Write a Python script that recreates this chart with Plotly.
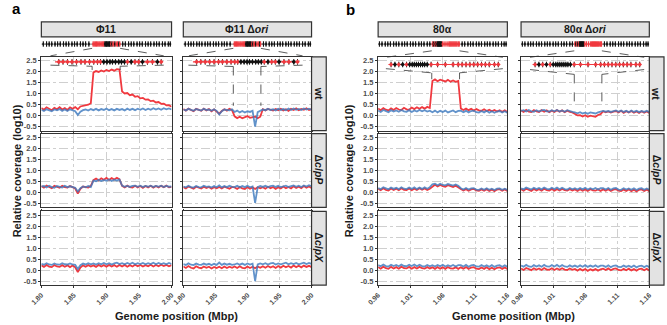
import numpy as np
import plotly.graph_objects as go

# ---------------- data ----------------
A_POS = np.round(np.linspace(1.80, 2.00, 51), 3)   # Mbp sampling grid, phage Phi11 window
B_POS = np.round(np.linspace(0.96, 1.16, 51), 3)   # Mbp sampling grid, phage 80alpha window

A_TICKS = [1.80, 1.85, 1.90, 1.95, 2.00]
A_LABELS = ["1.80", "1.85", "1.90", "1.95", "2.00"]
B_TICKS = [0.96, 1.01, 1.06, 1.11, 1.16]
B_LABELS = ["0.96", "1.01", "1.06", "1.11", "1.16"]
Y_TICKS = [-0.5, 0.0, 0.5, 1.0, 1.5, 2.0, 2.5]
Y_LABELS = ["-0.5", "0.0", "0.5", "1.0", "1.5", "2.0", "2.5"]

COLUMNS = ["Φ11", "Φ11 Δ<i>ori</i>", "80α", "80α Δ<i>ori</i>"]
ROWS = ["wt", "Δ<i>clpP</i>", "Δ<i>clpX</i>"]

# Phi11 wt
A1_WT_RED = [0.35, 0.27, 0.38, 0.30, 0.25, 0.36, 0.29, 0.39, 0.28, 0.35, 0.26, 0.38, 0.31, 0.39,
             0.29, 0.42, 0.44, 0.49, 0.50, 0.57,
             1.97, 2.03, 1.99, 2.06, 2.01, 2.08, 2.03, 2.10, 2.05, 2.12, 2.10,
             1.10, 1.01, 1.03, 0.93, 0.96, 0.86, 0.89, 0.79, 0.81, 0.73, 0.74, 0.66, 0.68, 0.60,
             0.62, 0.54, 0.55, 0.47, 0.48, 0.41]
A1_WT_BLUE = [0.27, 0.21, 0.29, 0.23, 0.20, 0.28, 0.24, 0.30, 0.22, 0.28, 0.21, 0.29, 0.23, 0.20,
              0.03, 0.18, 0.25, 0.28, 0.23, 0.30,
              0.25, 0.31, 0.24, 0.30, 0.26, 0.32, 0.25, 0.30, 0.24, 0.31, 0.26,
              0.30, 0.24, 0.32, 0.26, 0.31, 0.25, 0.32, 0.27, 0.33, 0.26, 0.32, 0.27, 0.34, 0.28,
              0.33, 0.27, 0.34, 0.29, 0.33, 0.28]
# Phi11 dori wt
A2_WT_RED = [0.30, 0.23, 0.32, 0.24, 0.20, 0.31, 0.25, 0.22, 0.32, 0.24, 0.30, 0.20, 0.29, 0.21,
             0.09, 0.21, 0.29, 0.23, 0.31, 0.25,
             -0.03, -0.11, -0.05, -0.12, -0.06, -0.02, -0.10, -0.07, -0.04, -0.12, -0.05,
             0.29, 0.24, 0.31, 0.26, 0.23, 0.30, 0.25, 0.31, 0.24, 0.29, 0.22, 0.31, 0.26, 0.33,
             0.25, 0.31, 0.27, 0.34, 0.26, 0.30]
A2_WT_BLUE = [0.28, 0.24, 0.31, 0.25, 0.22, 0.30, 0.25, 0.23, 0.31, 0.26, 0.28, 0.22, 0.29, 0.22,
              0.05, 0.20, 0.28, 0.26, 0.24, 0.29,
              0.17, 0.23, 0.15, 0.21, 0.14, 0.20, 0.17, 0.22, -0.50, 0.16, 0.21,
              0.28, 0.25, 0.31, 0.26, 0.29, 0.24, 0.31, 0.26, 0.30, 0.25, 0.32, 0.26, 0.33, 0.27,
              0.31, 0.26, 0.33, 0.28, 0.32, 0.27]
# Phi11 clpP
A1_P_RED = [0.29, 0.22, 0.31, 0.23, 0.19, 0.30, 0.24, 0.21, 0.30, 0.24, 0.22, 0.29, 0.24, 0.18,
            -0.05, 0.16, 0.27, 0.25, 0.22, 0.30,
            0.56, 0.63, 0.55, 0.64, 0.58, 0.66, 0.57, 0.65, 0.59, 0.67, 0.60,
            0.30, 0.23, 0.31, 0.24, 0.22, 0.30, 0.23, 0.29, 0.21, 0.29, 0.23, 0.30, 0.22, 0.29,
            0.23, 0.30, 0.24, 0.31, 0.23, 0.25]
A1_P_BLUE = [0.26, 0.29, 0.23, 0.30, 0.24, 0.21, 0.29, 0.25, 0.22, 0.30, 0.24, 0.28, 0.23, 0.21,
             0.04, 0.19, 0.27, 0.23, 0.29, 0.24,
             0.54, 0.51, 0.58, 0.52, 0.57, 0.53, 0.59, 0.52, 0.58, 0.54, 0.59,
             0.31, 0.26, 0.30, 0.25, 0.30, 0.31, 0.26, 0.31, 0.25, 0.30, 0.26, 0.31, 0.25, 0.30,
             0.26, 0.31, 0.25, 0.30, 0.26, 0.27]
A2_P_RED = [0.24, 0.18, 0.27, 0.20, 0.17, 0.26, 0.21, 0.18, 0.26, 0.20, 0.25, 0.17, 0.24, 0.19,
            0.25, 0.18, 0.26, 0.20, 0.17, 0.25,
            0.23, 0.16, 0.25, 0.18, 0.15, 0.24, 0.17, 0.23, 0.16, 0.24, 0.19,
            0.24, 0.17, 0.26, 0.19, 0.25, 0.16, 0.24, 0.18, 0.27, 0.19, 0.25, 0.18, 0.28, 0.20,
            0.26, 0.19, 0.29, 0.21, 0.27, 0.20]
A2_P_BLUE = [0.27, 0.23, 0.30, 0.24, 0.22, 0.29, 0.24, 0.23, 0.30, 0.25, 0.27, 0.22, 0.29, 0.24,
             0.32, 0.23, 0.29, 0.24, 0.30, 0.25,
             0.24, 0.30, 0.23, 0.29, 0.24, 0.30, 0.23, 0.27, -0.48, 0.24, 0.29,
             0.25, 0.30, 0.24, 0.29, 0.31, 0.25, 0.30, 0.24, 0.29, 0.31, 0.25, 0.30, 0.32, 0.26,
             0.31, 0.25, 0.32, 0.27, 0.33, 0.28]
# Phi11 clpX
A1_X_RED = [0.22, 0.15, 0.24, 0.16, 0.14, 0.23, 0.17, 0.15, 0.23, 0.16, 0.22, 0.14, 0.21, 0.13,
            -0.09, 0.12, 0.22, 0.16, 0.23, 0.17,
            0.22, 0.15, 0.24, 0.17, 0.23, 0.16, 0.24, 0.17, 0.23, 0.16, 0.24,
            0.17, 0.24, 0.16, 0.23, 0.17, 0.25, 0.18, 0.24, 0.17, 0.23, 0.18, 0.25, 0.17, 0.24,
            0.18, 0.25, 0.19, 0.24, 0.18, 0.23]
A1_X_BLUE = [0.29, 0.25, 0.32, 0.26, 0.24, 0.31, 0.26, 0.25, 0.32, 0.27, 0.26, 0.31, 0.26, 0.24,
             0.05, 0.23, 0.30, 0.26, 0.32, 0.27,
             0.31, 0.26, 0.32, 0.27, 0.33, 0.27, 0.32, 0.26, 0.31, 0.34, 0.28,
             0.32, 0.27, 0.33, 0.28, 0.34, 0.27, 0.32, 0.28, 0.33, 0.27, 0.32, 0.28, 0.34, 0.27,
             0.33, 0.28, 0.32, 0.27, 0.33, 0.28]
A2_X_RED = [0.17, 0.10, 0.19, 0.11, 0.08, 0.18, 0.12, 0.09, 0.17, 0.11, 0.16, 0.08, 0.15, 0.10,
            0.16, 0.09, 0.17, 0.10, 0.16, 0.11,
            0.17, 0.10, 0.18, 0.11, 0.09, 0.17, 0.10, 0.16, 0.09, 0.17, 0.11,
            0.18, 0.11, 0.19, 0.12, 0.18, 0.10, 0.19, 0.12, 0.20, 0.13, 0.19, 0.12, 0.21, 0.14,
            0.20, 0.13, 0.21, 0.15, 0.20, 0.14]
A2_X_BLUE = [0.28, 0.24, 0.31, 0.25, 0.23, 0.30, 0.25, 0.24, 0.30, 0.25, 0.29, 0.23, 0.29, 0.24,
             0.35, 0.24, 0.30, 0.25, 0.29, 0.24,
             0.26, 0.31, 0.25, 0.30, 0.24, 0.31, 0.26, 0.30, -0.50, 0.26, 0.31,
             0.27, 0.32, 0.26, 0.31, 0.33, 0.26, 0.31, 0.27, 0.32, 0.34, 0.27, 0.32, 0.28, 0.33,
             0.27, 0.32, 0.34, 0.28, 0.33, 0.29]

# 80alpha wt
B1_WT_RED = [0.32, 0.25, 0.34, 0.27, 0.24, 0.33, 0.26, 0.35, 0.28, 0.26, 0.36, 0.29, 0.27, 0.37,
             0.30, 0.38, 0.31, 0.39, 0.32, 0.40, 0.35,
             1.58, 1.65, 1.57, 1.64, 1.59, 1.56, 1.63, 1.55, 1.60, 1.54, 1.58,
             0.33, 0.26, 0.32, 0.25, 0.31, 0.23, 0.30, 0.24, 0.22, 0.29, 0.21, 0.27, 0.20, 0.26,
             0.19, 0.25, 0.18, 0.24, 0.17]
B1_WT_BLUE = [0.23, 0.17, 0.26, 0.20, 0.16, 0.25, 0.19, 0.24, 0.18, 0.26, 0.20, 0.18, 0.25, 0.17,
              0.24, 0.19, 0.26, 0.20, 0.25, 0.19, 0.23,
              0.16, 0.23, 0.15, 0.22, 0.17, 0.23, 0.15, 0.21, 0.24, 0.16, 0.22,
              0.23, 0.16, 0.22, 0.15, 0.21, 0.23, 0.16, 0.14, 0.21, 0.15, 0.22, 0.14, 0.20, 0.13,
              0.19, 0.21, 0.14, 0.20, 0.13]
B2_WT_RED = [0.24, 0.17, 0.26, 0.18, 0.16, 0.25, 0.19, 0.17, 0.25, 0.18, 0.24, 0.16, 0.23, 0.17,
             0.25, 0.18, 0.24, 0.16, 0.23, 0.17, 0.15,
             0.06, 0.01, 0.02, -0.04, 0.02, -0.05, 0.00, -0.02, -0.05, 0.03, 0.07,
             0.20, 0.15, 0.19, 0.14, 0.18, 0.21, 0.15, 0.22, 0.13, 0.20, 0.14, 0.21, 0.13, 0.19,
             0.12, 0.20, 0.13, 0.19, 0.12]
B2_WT_BLUE = [0.22, 0.25, 0.19, 0.26, 0.20, 0.18, 0.25, 0.19, 0.24, 0.26, 0.20, 0.19, 0.25, 0.20,
              0.26, 0.19, 0.24, 0.18, 0.25, 0.20, 0.17,
              0.15, 0.11, 0.16, 0.10, 0.14, 0.09, 0.15, 0.11, 0.10, 0.15, 0.17,
              0.22, 0.18, 0.21, 0.17, 0.20, 0.24, 0.18, 0.23, 0.17, 0.22, 0.16, 0.23, 0.17, 0.22,
              0.16, 0.21, 0.17, 0.22, 0.16]
# 80alpha clpP
B1_P_RED = [0.17, 0.10, 0.19, 0.12, 0.09, 0.18, 0.11, 0.17, 0.10, 0.19, 0.12, 0.11, 0.18, 0.10,
            0.17, 0.11, 0.19, 0.12, 0.18, 0.11, 0.17,
            0.28, 0.35, 0.27, 0.34, 0.29, 0.26, 0.33, 0.28, 0.25, 0.31, 0.25,
            0.16, 0.09, 0.15, 0.08, 0.14, 0.16, 0.09, 0.07, 0.14, 0.08, 0.15, 0.07, 0.13, 0.06,
            0.13, 0.15, 0.08, 0.14, 0.07]
B1_P_BLUE = [0.20, 0.15, 0.23, 0.17, 0.14, 0.22, 0.16, 0.21, 0.15, 0.23, 0.17, 0.15, 0.22, 0.16,
             0.23, 0.15, 0.22, 0.16, 0.23, 0.17, 0.24,
             0.37, 0.40, 0.33, 0.39, 0.34, 0.32, 0.38, 0.33, 0.31, 0.36, 0.30,
             0.19, 0.13, 0.20, 0.13, 0.18, 0.19, 0.13, 0.12, 0.18, 0.12, 0.19, 0.12, 0.17, 0.11,
             0.17, 0.18, 0.12, 0.17, 0.12]
B2_P_RED = [0.15, 0.08, 0.17, 0.10, 0.07, 0.16, 0.09, 0.15, 0.08, 0.17, 0.10, 0.09, 0.16, 0.08,
            0.15, 0.09, 0.16, 0.10, 0.08, 0.15, 0.09,
            0.14, 0.07, 0.15, 0.08, 0.14, 0.07, 0.15, 0.09, 0.08, 0.14, 0.07,
            0.14, 0.08, 0.15, 0.07, 0.13, 0.15, 0.08, 0.06, 0.13, 0.07, 0.14, 0.06, 0.12, 0.05,
            0.12, 0.14, 0.07, 0.13, 0.06]
B2_P_BLUE = [0.19, 0.14, 0.22, 0.16, 0.13, 0.21, 0.15, 0.20, 0.14, 0.22, 0.16, 0.14, 0.21, 0.15,
             0.22, 0.14, 0.21, 0.15, 0.13, 0.20, 0.14,
             0.19, 0.13, 0.20, 0.14, 0.21, 0.13, 0.19, 0.14, 0.20, 0.13, 0.19,
             0.19, 0.13, 0.20, 0.12, 0.18, 0.20, 0.13, 0.12, 0.19, 0.13, 0.18, 0.12, 0.19, 0.11,
             0.17, 0.19, 0.12, 0.18, 0.12]
# 80alpha clpX
B1_X_RED = [0.14, 0.07, 0.16, 0.09, 0.06, 0.15, 0.08, 0.14, 0.07, 0.16, 0.09, 0.08, 0.15, 0.07,
            0.14, 0.08, 0.15, 0.09, 0.07, 0.14, 0.08,
            0.13, 0.06, 0.14, 0.07, 0.13, 0.06, 0.14, 0.08, 0.07, 0.13, 0.06,
            0.13, 0.07, 0.14, 0.06, 0.12, 0.14, 0.07, 0.05, 0.12, 0.06, 0.13, 0.05, 0.11, 0.04,
            0.11, 0.13, 0.06, 0.12, 0.05]
B1_X_BLUE = [0.23, 0.18, 0.26, 0.19, 0.17, 0.25, 0.19, 0.24, 0.18, 0.26, 0.19, 0.18, 0.25, 0.19,
             0.26, 0.18, 0.25, 0.19, 0.17, 0.24, 0.18,
             0.23, 0.17, 0.24, 0.18, 0.25, 0.17, 0.23, 0.18, 0.24, 0.17, 0.23,
             0.23, 0.17, 0.24, 0.16, 0.22, 0.24, 0.17, 0.16, 0.23, 0.17, 0.22, 0.16, 0.23, 0.15,
             0.21, 0.23, 0.16, 0.22, 0.16]
B2_X_RED = [0.08, 0.01, 0.10, 0.03, 0.00, 0.09, 0.02, 0.08, 0.01, 0.10, 0.03, 0.02, 0.09, 0.01,
            0.08, 0.02, 0.09, 0.03, 0.01, 0.08, 0.02,
            0.05, -0.02, 0.06, -0.01, 0.05, -0.03, 0.04, -0.01, 0.05, -0.02, 0.04,
            0.07, 0.01, 0.08, 0.00, 0.06, 0.08, 0.01, -0.01, 0.06, 0.00, 0.07, -0.01, 0.05, -0.02,
            0.05, 0.07, 0.00, 0.06, -0.01]
B2_X_BLUE = [0.21, 0.16, 0.24, 0.17, 0.15, 0.23, 0.17, 0.22, 0.16, 0.24, 0.17, 0.16, 0.23, 0.17,
             0.24, 0.16, 0.23, 0.17, 0.15, 0.22, 0.16,
             0.21, 0.15, 0.22, 0.16, 0.23, 0.15, 0.21, 0.16, 0.22, 0.15, 0.21,
             0.21, 0.15, 0.22, 0.14, 0.20, 0.22, 0.15, 0.14, 0.21, 0.15, 0.20, 0.14, 0.21, 0.13,
             0.19, 0.21, 0.14, 0.20, 0.14]

# Gene maps (Mbp): genes outside the ori region (black) and inside it (coloured)
PHI11_GENES = [1.803, 1.808, 1.812, 1.816, 1.821, 1.825, 1.829, 1.834, 1.838, 1.842, 1.847,
               1.851, 1.855, 1.860, 1.864, 1.868, 1.873, 1.925, 1.929, 1.934, 1.938, 1.942,
               1.947, 1.951, 1.955, 1.960, 1.964, 1.968, 1.973, 1.977, 1.981, 1.986, 1.990,
               1.995, 1.998]
PHI11_ORI = [1.8795, 1.8812, 1.8830, 1.8848, 1.8866, 1.8884, 1.8900, 1.8918, 1.8935, 1.8950,
             1.8962, 1.8975, 1.8988, 1.9000, 1.9010, 1.9022, 1.9035, 1.9046, 1.9058, 1.9070,
             1.9085, 1.9100, 1.9115, 1.9130, 1.9150, 1.9170, 1.9190, 1.9205]
PHI11_ORI_COL = ["r", "r", "r", "r", "r", "r", "r", "r", "r", "r", "r", "k", "k", "k",
                 "k", "k", "k", "k", "k", "r", "k", "r", "r", "k", "r", "r", "k", "r"]
A80_GENES = [0.962, 0.966, 0.971, 0.975, 0.979, 0.984, 0.988, 0.992, 0.997, 1.001, 1.005,
             1.010, 1.014, 1.018, 1.023, 1.027, 1.031, 1.036, 1.040, 1.090, 1.094, 1.099,
             1.103, 1.107, 1.112, 1.116, 1.120, 1.125, 1.129, 1.133, 1.138, 1.142, 1.146,
             1.151, 1.155, 1.158]
A80_ORI = [1.0440, 1.0455, 1.0470, 1.0485, 1.0500, 1.0512, 1.0522, 1.0530, 1.0538, 1.0546,
           1.0554, 1.0562, 1.0570, 1.0580, 1.0595, 1.0620, 1.0650, 1.0680, 1.0700, 1.0715,
           1.0730, 1.0745, 1.0760, 1.0775, 1.0790, 1.0805, 1.0820, 1.0840, 1.0855]
A80_ORI_COL = ["r", "k", "r", "k", "r", "k", "k", "k", "k", "k", "k", "k", "k", "k", "r",
               "r", "r", "r", "r", "r", "r", "r", "r", "r", "r", "r", "r", "r", "r"]

ORI_REGION = [(1.878, 1.921), (1.878, 1.921), (1.043, 1.086), (1.043, 1.086)]
ZOOM_SPAN = [(1.814, 1.988), (1.808, 1.986), (0.972, 1.153), (0.974, 1.152)]
INNER_ROW = [(1.821, 1.986), (1.815, 1.980), (0.976, 1.148), (0.978, 1.147)]
INNER_Y = [2.45, 2.45, 2.33, 2.33]
DROP_TO = [2.08, 0.45, 1.66, 0.45]

SERIES = {
    (0, 0): (A1_WT_RED, A1_WT_BLUE), (0, 1): (A2_WT_RED, A2_WT_BLUE),
    (0, 2): (B1_WT_RED, B1_WT_BLUE), (0, 3): (B2_WT_RED, B2_WT_BLUE),
    (1, 0): (A1_P_RED, A1_P_BLUE), (1, 1): (A2_P_RED, A2_P_BLUE),
    (1, 2): (B1_P_RED, B1_P_BLUE), (1, 3): (B2_P_RED, B2_P_BLUE),
    (2, 0): (A1_X_RED, A1_X_BLUE), (2, 1): (A2_X_RED, A2_X_BLUE),
    (2, 2): (B1_X_RED, B1_X_BLUE), (2, 3): (B2_X_RED, B2_X_BLUE),
}

# ---------------- style / layout ----------------
W, H = 667, 325
RED = "#F0393F"
BLUE = "rgba(62,122,190,0.82)"
DARK = "#333333"
FONT = "Liberation Sans, Arial, sans-serif"
COL_PX = [(31, 164), (176, 307), (375, 507), (521, 652)]
ROW_PX = [(57, 131), (134, 208), (212, 286)]
MAP_PX = (41.5, 47)
STRIP_TOP_PX = (22, 37)
STRIP_R_PX = [(307, 322), (652, 667)]


def px(v):
    return v / W


def py(v):
    return 1 - v / H


fig = go.Figure()
layout = dict(width=W, height=H, margin=dict(l=0, r=0, t=0, b=0), autosize=False,
              paper_bgcolor="white", plot_bgcolor="white", showlegend=False)

for r in range(3):
    for c in range(4):
        n = r * 4 + c + 1
        pos = A_POS if c < 2 else B_POS
        ticks, labels = (A_TICKS, A_LABELS) if c < 2 else (B_TICKS, B_LABELS)
        layout[f"xaxis{n}"] = dict(
            domain=[px(COL_PX[c][0]), px(COL_PX[c][1])], anchor=f"y{n}",
            range=[ticks[0], ticks[-1]], tickvals=ticks, ticktext=labels,
            showticklabels=(r == 2), tickangle=-45, ticks="outside", ticklen=2,
            tickcolor=DARK, tickfont=dict(family=FONT, size=7, color="#4D4D4D", weight="bold"),
            showgrid=True, gridcolor="#CFCFCF", gridwidth=0.7, griddash="dashdot",
            showline=True, mirror=True, linecolor=DARK, linewidth=1.3, zeroline=False)
        layout[f"yaxis{n}"] = dict(
            domain=[py(ROW_PX[r][1]), py(ROW_PX[r][0])], anchor=f"x{n}",
            range=[-0.68, 2.68], tickvals=Y_TICKS, ticktext=Y_LABELS,
            showticklabels=(c in (0, 2)), ticks="outside", ticklen=2, tickcolor=DARK,
            tickfont=dict(family=FONT, size=7.5, color="#4D4D4D", weight="bold"),
            showgrid=True, gridcolor="#CFCFCF", gridwidth=0.7, griddash="dashdot",
            showline=True, mirror=True, linecolor=DARK, linewidth=1.3, zeroline=False)
        red, blue = SERIES[(r, c)]
        fig.add_trace(go.Scatter(x=pos, y=red, mode="lines", line=dict(color=RED, width=1.8),
                                 xaxis=f"x{n}", yaxis=f"y{n}", hoverinfo="skip"))
        fig.add_trace(go.Scatter(x=pos, y=blue, mode="lines", line=dict(color=BLUE, width=1.8),
                                 xaxis=f"x{n}", yaxis=f"y{n}", hoverinfo="skip"))

# gene map axes (one per column)
for c in range(4):
    n = 13 + c
    ticks = A_TICKS if c < 2 else B_TICKS
    layout[f"xaxis{n}"] = dict(domain=[px(COL_PX[c][0]), px(COL_PX[c][1])], anchor=f"y{n}",
                               range=[ticks[0], ticks[-1]], visible=False)
    layout[f"yaxis{n}"] = dict(domain=[py(MAP_PX[1]), py(MAP_PX[0])], anchor=f"x{n}",
                               range=[-1, 1], visible=False)
    genes, ori, ori_col = (PHI11_GENES, PHI11_ORI, PHI11_ORI_COL) if c < 2 else \
        (A80_GENES, A80_ORI, A80_ORI_COL)
    allx = list(genes) + list(ori)
    allc = ["#111111"] * len(genes) + [RED if k == "r" else "#111111" for k in ori_col]
    fig.add_trace(go.Scatter(x=[ticks[0], ticks[-1]], y=[0, 0], mode="lines",
                             line=dict(color="#777777", width=1), xaxis=f"x{n}", yaxis=f"y{n}",
                             hoverinfo="skip"))
    fig.add_trace(go.Scatter(x=allx, y=[0] * len(allx), mode="markers",
                             marker=dict(symbol="line-ns", size=6, line=dict(width=1.1, color=allc)),
                             xaxis=f"x{n}", yaxis=f"y{n}", hoverinfo="skip"))
    fig.add_trace(go.Scatter(x=allx, y=[0] * len(allx), mode="markers",
                             marker=dict(symbol="diamond-tall", size=3, color=allc),
                             xaxis=f"x{n}", yaxis=f"y{n}", hoverinfo="skip"))

    # zoomed inner gene row inside the wt panel
    r0, r1 = ORI_REGION[c]
    i0, i1 = INNER_ROW[c]
    zx = [i0 + (g - r0) / (r1 - r0) * (i1 - i0) for g in ori]
    zc = [RED if k == "r" else "#111111" for k in ori_col]
    fig.add_trace(go.Scatter(x=[i0, i1], y=[INNER_Y[c]] * 2, mode="lines",
                             line=dict(color=RED, width=1.1), xaxis=f"x{c+1}", yaxis=f"y{c+1}",
                             hoverinfo="skip"))
    fig.add_trace(go.Scatter(x=zx, y=[INNER_Y[c]] * len(zx), mode="markers",
                             marker=dict(symbol="line-ns", size=4, line=dict(width=1, color="#111111")),
                             xaxis=f"x{c+1}", yaxis=f"y{c+1}", hoverinfo="skip"))
    fig.add_trace(go.Scatter(x=zx, y=[INNER_Y[c]] * len(zx), mode="markers",
                             marker=dict(symbol="diamond", size=3.6, color=zc),
                             xaxis=f"x{c+1}", yaxis=f"y{c+1}", hoverinfo="skip"))

fig.update_layout(**layout)

shapes = []
annotations = []
dash = dict(color=DARK, width=0.8, dash="dash")

for c in range(4):
    r0, r1 = ORI_REGION[c]
    o0, o1 = ZOOM_SPAN[c]
    xr = f"x{c+1}"
    top0, top1 = (py(48.5), py(56)) if c < 2 else (py(51), py(57.5))
    shapes.append(dict(type="line", xref=xr, yref="paper", x0=r0, y0=top0, x1=o0, y1=top1, line=dash))
    shapes.append(dict(type="line", xref=xr, yref="paper", x0=r1, y0=top0, x1=o1, y1=top1, line=dash))
    ya, yb = (2.30, 2.25) if c < 2 else (2.14, 1.95)
    if c in (1, 3):
        ya, yb = (2.30, 2.24) if c == 1 else (2.10, 1.88)
    shapes.append(dict(type="line", xref=xr, yref=f"y{c+1}", x0=o0, y0=ya, x1=r0, y1=yb, line=dash))
    shapes.append(dict(type="line", xref=xr, yref=f"y{c+1}", x0=o1, y0=ya, x1=r1, y1=yb, line=dash))
    shapes.append(dict(type="line", xref=xr, yref=f"y{c+1}", x0=r0, y0=yb, x1=r0, y1=DROP_TO[c], line=dash))
    shapes.append(dict(type="line", xref=xr, yref=f"y{c+1}", x0=r1, y0=yb, x1=r1, y1=DROP_TO[c], line=dash))

    shapes.append(dict(type="rect", xref="paper", yref="paper",
                       x0=px(COL_PX[c][0]), x1=px(COL_PX[c][1]),
                       y0=py(STRIP_TOP_PX[1]), y1=py(STRIP_TOP_PX[0]),
                       fillcolor="#E3E3E3", line=dict(color=DARK, width=1.2)))
    annotations.append(dict(text=COLUMNS[c], xref="paper", yref="paper",
                            x=px((COL_PX[c][0] + COL_PX[c][1]) / 2),
                            y=py((STRIP_TOP_PX[0] + STRIP_TOP_PX[1]) / 2),
                            showarrow=False, xanchor="center", yanchor="middle",
                            font=dict(family=FONT, size=10.5, color="#1A1A1A", weight="bold")))

for side in range(2):
    for r in range(3):
        shapes.append(dict(type="rect", xref="paper", yref="paper",
                           x0=px(STRIP_R_PX[side][0]), x1=px(STRIP_R_PX[side][1]),
                           y0=py(ROW_PX[r][1]), y1=py(ROW_PX[r][0]),
                           fillcolor="#E3E3E3", line=dict(color=DARK, width=1.2)))
        annotations.append(dict(text=ROWS[r], xref="paper", yref="paper",
                                x=px((STRIP_R_PX[side][0] + STRIP_R_PX[side][1]) / 2),
                                y=py((ROW_PX[r][0] + ROW_PX[r][1]) / 2), textangle=90,
                                showarrow=False, xanchor="center", yanchor="middle",
                                font=dict(family=FONT, size=10.5, color="#1A1A1A", weight="bold")))

for xc, yt, letter, lx, ly in [(169, 7, "a", 6, 9), (513, 346, "b", 347, 10)]:
    annotations.append(dict(text="Genome position (Mbp)", xref="paper", yref="paper",
                            x=px(xc), y=py(317), showarrow=False, xanchor="center", yanchor="middle",
                            font=dict(family=FONT, size=11, color="#1A1A1A", weight="bold")))
    annotations.append(dict(text="Relative coverage (log10)", xref="paper", yref="paper",
                            x=px(yt), y=py(171), textangle=-90, showarrow=False,
                            xanchor="center", yanchor="middle",
                            font=dict(family=FONT, size=11, color="#1A1A1A", weight="bold")))
    annotations.append(dict(text=letter, xref="paper", yref="paper", x=px(lx), y=py(ly),
                            showarrow=False, xanchor="center", yanchor="middle",
                            font=dict(family=FONT, size=15, color="black", weight="bold")))

fig.update_layout(shapes=shapes, annotations=annotations)
fig.write_html("out.html", config={"displayModeBar": False},
               post_script="document.body.style.margin='0px';document.body.style.overflow='hidden';")
